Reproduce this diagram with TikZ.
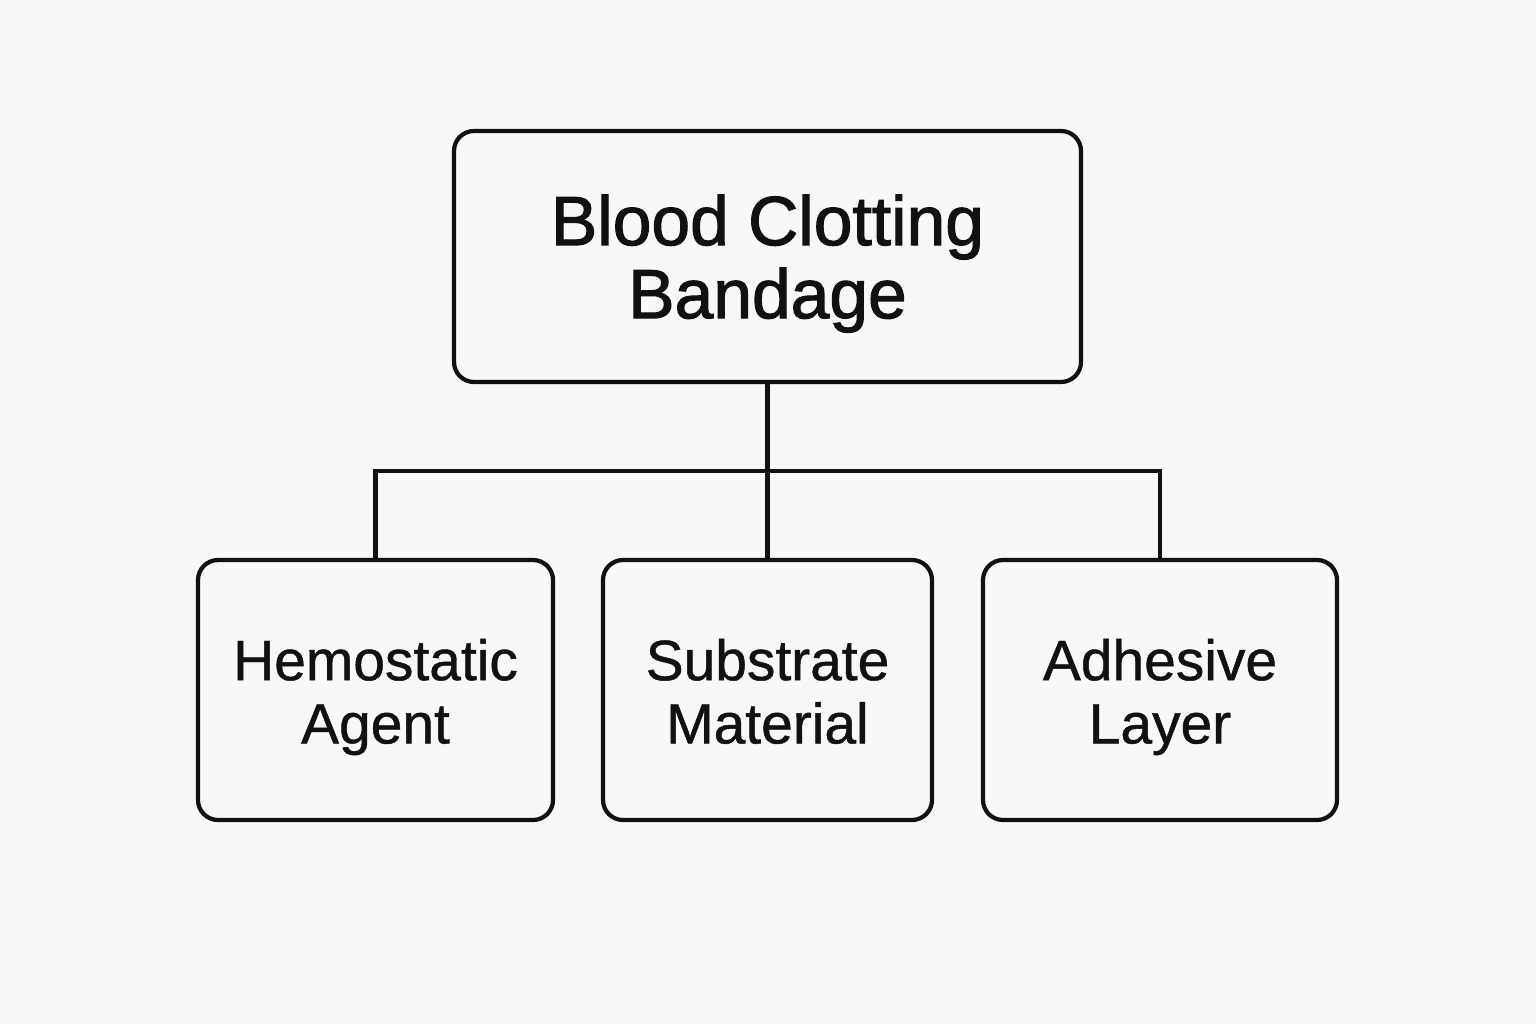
\documentclass[tikz,border=0pt]{standalone}
\usepackage{fontspec}
\setmainfont{Liberation Sans}
\newfontfamily\headfont[FakeBold=1.6]{Liberation Sans}
\newfontfamily\partfont[FakeBold=0.8]{Liberation Sans}
\usetikzlibrary{positioning}

\definecolor{bgpaper}{HTML}{F8F8F8}
\definecolor{inkline}{HTML}{111111}

% struts that place the two text lines in each box
\newcommand{\headtop}{\rule{0pt}{19.3pt}}
\newcommand{\headbot}{\rule[-5pt]{0pt}{5pt}}
\newcommand{\parttop}{\rule{0pt}{17.8pt}}
\newcommand{\partbot}{\rule[-5.4pt]{0pt}{5.4pt}}

\begin{document}
\begin{tikzpicture}[line width=1.2pt]

\tikzstyle{part}=[draw=inkline, rounded corners=0.2cm, align=center, text=inkline, inner sep=0pt,
                  minimum height=2.6cm, font=\partfont\fontsize{16.2}{18}\selectfont]
\tikzstyle{link}=[draw=inkline, line width=1.2pt]

% background and page size
\fill[bgpaper] (0,0) rectangle (15.36,10.24);
\useasboundingbox (0,0) rectangle (15.36,10.24);

\node[part, minimum width=6.27cm, minimum height=2.51cm,
      font=\headfont\fontsize{19.8}{20.8}\selectfont] (bandage) at (7.675,7.675)
      {\headtop Blood Clotting\\Bandage\headbot};

\node[part, minimum width=3.55cm] (agent) at (3.755,3.34)
      {\parttop Hemostatic\\Agent\partbot};
\node[part, minimum width=3.29cm] (substrate) at (7.675,3.34)
      {\parttop Substrate\\Material\partbot};
\node[part, minimum width=3.54cm] (adhesive) at (11.6,3.34)
      {\parttop Adhesive\\Layer\partbot};

\coordinate (split) at (7.675,5.53);

\draw[link] (bandage.south) -- (split);
\draw[link] (agent.north) |- (split) -| (adhesive.north);
\draw[link] (split) -- (substrate.north);

\end{tikzpicture}
\end{document}
